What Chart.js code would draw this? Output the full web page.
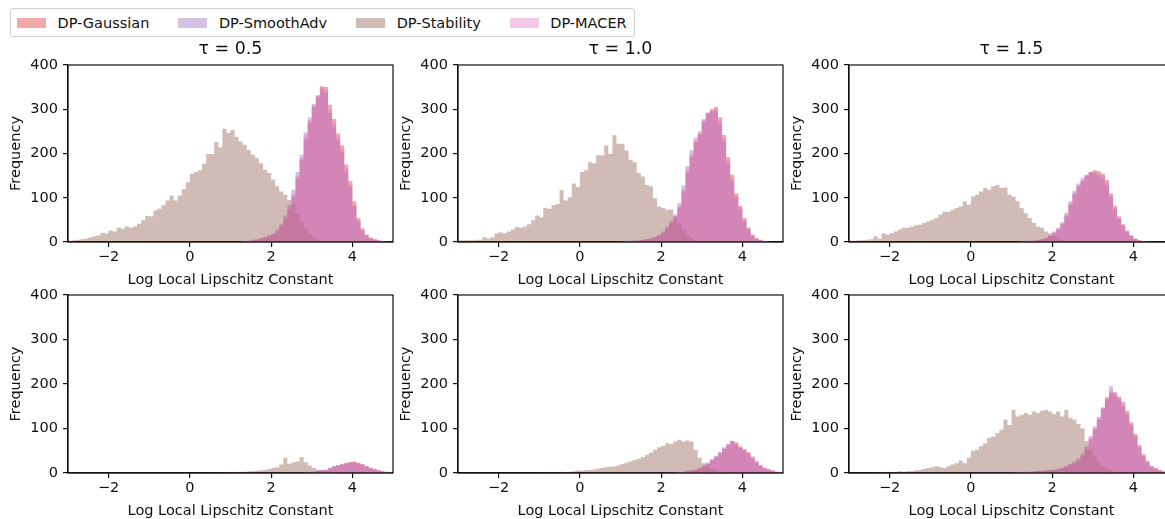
<!DOCTYPE html>
<html>
<head>
<meta charset="utf-8">
<title>Log Local Lipschitz Constant histograms</title>
<script src="https://cdn.jsdelivr.net/npm/chart.js@4.4.1/dist/chart.umd.min.js"></script>
<style>
  html, body { margin: 0; padding: 0; background: #fff; }
  body { width: 1165px; height: 519px; overflow: hidden; position: relative; font-family: "DejaVu Sans", sans-serif; }
  .panel { position: absolute; }
  #legend { position: absolute; left: 10px; top: 8px; height: 27px; border: 1px solid #d0d0d0; border-radius: 3px;
            display: flex; align-items: center; padding: 0 7px 0 6px; font-size: 14.5px; color: #111; background: #fff; }
  .item { display: flex; align-items: center; margin-right: 29px; white-space: nowrap; }
  .item:last-child { margin-right: 0; }
  .swatch { width: 29px; height: 10px; margin-right: 11.5px; }
</style>
</head>
<body>
<div id="legend"></div>
<script>
// series + axis setup
const seriesNames = ['DP-Gaussian', 'DP-SmoothAdv', 'DP-Stability', 'DP-MACER'];
const seriesColors = ['rgba(214,39,40,0.4)', 'rgba(148,103,189,0.4)', 'rgba(140,86,75,0.4)', 'rgba(227,119,194,0.4)'];
const panelTaus = ['τ = 0.5', 'τ = 1.0', 'τ = 1.5'];
const xTicks = [-2, 0, 2, 4];
const binWidth = 0.1;

// histogram counts per panel (row-major: top row then bottom row), each bin binWidth wide
const stabilityStart = [-3.0, -3.0, -3.0, 0.5, -1.0, -2.5];
const stabilityCounts = [
  [3,4,5,6,8,10,13,15,21,19, 26,24,32,30,35,32,35,41,49,59, 58,71,75,83,94,105,94,105,120,135,
   154,158,162,177,199,199,226,214,256,247, 253,238,227,220,208,197,190,178,163,156, 141,126,114,107,95,85,65,45,30,18, 10,5,2],
  [4,4,4,4,5,5,11,8,11,19, 22,20,24,28,34,32,35,40,49,60, 56,77,75,83,86,118,94,101,132,124,
   158,162,180,178,196,196,218,199,241,222, 222,207,186,180,156,148,129,126,99,80, 77,73,73,58,43,28,17,9,5,2],
  [3,3,4,4,5,6,13,8,20,17, 20,24,28,32,32,35,38,39,43,47, 50,54,62,69,68,73,77,80,92,84,
   103,107,114,122,118,126,129,122,123,107, 103,92,77,65,54,43,35,32,24,20, 13,8,4,2],
  [1,1,1,2,1,2,2,3,3,4, 4,5,6,7,9,11,13,19,34,21, 24,26,36,24,17,11,7,6,4,3, 2,1],
  [1,1,2,1,2,3,2,3,4,6, 5,6,7,8,10,11,13,14,15,17, 20,23,26,29,32,36,41,46,52,58,
   61,67,65,71,75,71,73,71,52,34, 22,15,10,7,4,2,1],
  [1,1,2,1,2,2,3,4,3,4, 4,6,7,9,11,13,15,13,11,15, 19,22,28,22,34,50,52,60,67,79,
   82,90,97,120,108,142,127,131,135,131, 138,135,140,142,138,132,138,127,142,123, 120,110,100,72,52,38,25,15,10,6, 3,2]
];

const gaussianStart = [1.3, 1.0, 1.2, 2.8, 2.3, 1.0];
const gaussianCounts = [
  [2,2,4,5,8,10,13,17,24,35,52,74,104,144,185,232,270,305,328,352,350,310,278,245,218,175,138,92,55,31,17,10,7,4,2,1],
  [1,1,2,3,3,4,6,7,10,14,20,30,42,55,78,114,158,194,226,244,272,292,300,305,282,242,192,152,110,82,54,33,17,9,5,2,1],
  [1,1,2,3,4,5,8,13,20,28,40,58,84,108,126,138,150,158,162,160,154,140,110,82,58,40,26,15,8,4,2,1],
  [1,1,2,4,5,6,10,14,17,19,23,25,25,23,20,16,12,9,7,4,3,1],
  [1,1,2,4,5,6,9,14,20,28,36,44,54,63,72,69,60,54,47,37,27,18,12,9,6,3,2],
  [1,1,1,2,2,3,4,4,5,6,7,8,10,14,18,22,28,38,53,76,98,120,144,170,180,182,172,160,140,114,88,63,42,27,16,11,7,4,2]
];

const smoothAdvStart = [1.3, 1.0, 1.2, 2.8, 2.3, 1.0];
const smoothAdvCounts = [
  [2,3,5,6,9,12,15,20,28,41,60,84,118,158,198,248,282,312,332,346,338,292,262,230,202,160,124,80,46,26,14,8,5,3,2,1],
  [1,2,3,3,4,5,7,9,12,16,24,35,48,62,88,128,172,208,236,250,278,290,295,296,268,226,178,138,100,74,47,28,14,7,4,2,1],
  [1,2,3,3,5,7,10,15,24,33,45,66,92,116,132,145,152,158,156,150,144,128,100,74,52,36,22,13,6,3,2,1],
  [1,2,3,5,6,8,12,16,18,21,21,23,24,21,18,14,10,8,5,3,2,1],
  [1,2,3,5,6,8,11,17,24,32,39,47,58,66,71,64,56,50,43,33,23,15,10,7,4,3,1],
  [1,2,2,3,3,4,5,5,6,7,8,10,12,16,21,26,33,44,60,83,105,126,148,165,195,174,165,150,130,106,81,57,37,23,14,9,5,3,1]
];

const macerStart = [1.3, 1.0, 1.2, 2.8, 2.3, 1.0];
const macerCounts = [
  [2,3,4,6,8,11,14,18,26,38,55,78,110,150,190,240,275,310,330,350,345,300,270,238,210,168,130,85,50,28,15,9,6,4,2,1],
  [1,2,2,3,4,5,6,8,11,15,22,32,45,58,82,120,165,200,230,246,275,292,298,302,275,235,185,145,105,78,50,30,15,8,4,2,1],
  [1,2,2,3,4,6,9,14,22,30,42,62,88,112,128,140,148,155,160,156,150,135,105,78,55,38,24,14,7,4,2,1],
  [1,2,3,4,5,7,11,15,16,20,22,24,26,22,19,15,11,9,6,4,2,1],
  [1,2,3,4,5,7,10,15,22,30,37,45,56,64,73,67,58,52,45,35,25,17,11,8,5,3,2],
  [1,1,2,2,3,3,4,5,5,6,7,9,11,15,19,24,30,41,56,79,101,123,146,168,185,178,170,155,135,110,85,60,40,25,15,10,6,4,2]
];

// turn bin counts into step points: one point per left bin edge, plus the closing right edge
function binPoints(start, counts) {
  const pts = counts.map((c, i) => ({ x: +(start + i * binWidth).toFixed(2), y: c }));
  pts.push({ x: +(start + counts.length * binWidth).toFixed(2), y: 0 });
  return pts;
}

// matplotlib draws the axes frame on all four sides
const framePlugin = {
  id: 'frame',
  afterDraw(chart) {
    const { ctx, chartArea: a } = chart;
    ctx.save();
    ctx.strokeStyle = '#111';
    ctx.lineWidth = 1.2;
    ctx.strokeRect(a.left, a.top, a.right - a.left, a.bottom - a.top);
    ctx.restore();
  }
};

const FONT = 'DejaVu Sans';
const TEXT = '#111';
const colLeft = [68, 458, 849];
const rowTop = [65, 295];
const rowHeight = [177, 178];
const plotWidth = 325;
const padL = 68, padT = 35, padB = 50, padR = 8;

const charts = [];
for (let p = 0; p < 6; p++) {
  const row = Math.floor(p / 3), col = p % 3;
  const w = padL + plotWidth + padR;
  const h = padT + rowHeight[row] + padB;
  const canvas = document.createElement('canvas');
  canvas.className = 'panel';
  canvas.width = w; canvas.height = h;
  canvas.style.left = (colLeft[col] - padL) + 'px';
  canvas.style.top = (rowTop[row] - padT) + 'px';
  canvas.style.width = w + 'px';
  canvas.style.height = h + 'px';
  document.body.appendChild(canvas);

  const starts = [gaussianStart[p], smoothAdvStart[p], stabilityStart[p], macerStart[p]];
  const counts = [gaussianCounts[p], smoothAdvCounts[p], stabilityCounts[p], macerCounts[p]];

  const datasets = seriesNames.map((name, i) => ({
    label: name,
    data: binPoints(starts[i], counts[i]),
    stepped: true,
    fill: 'origin',
    backgroundColor: seriesColors[i],
    borderColor: 'rgba(0,0,0,0)',
    borderWidth: 0,
    pointRadius: 0,
    order: 4 - i // first series at the bottom, MACER on top
  }));

  const axisGrid = { display: true, drawOnChartArea: false, drawTicks: true, tickLength: 5, color: TEXT, lineWidth: 1.2 };
  const axisBorder = { display: true, color: TEXT, width: 1.2 };

  charts.push(new Chart(canvas, {
    type: 'line',
    data: { datasets },
    options: {
      responsive: false,
      animation: false,
      devicePixelRatio: 1,
      layout: { padding: { top: row === 0 ? 0 : padT, right: padR, left: 0, bottom: 0 } },
      plugins: {
        legend: { display: false },
        tooltip: { enabled: false },
        title: {
          display: row === 0,
          fullSize: false, // centre over the plot area, like an axes title
          text: panelTaus[col],
          color: TEXT,
          font: { family: FONT, size: 17.4, weight: 'normal' },
          padding: { top: 9.5, bottom: 4.6 }
        }
      },
      scales: {
        x: {
          type: 'linear',
          min: -3,
          max: 5,
          afterBuildTicks: s => { s.ticks = xTicks.map(v => ({ value: v })); },
          afterFit: s => { s.height = padB; },
          ticks: {
            color: TEXT, padding: 2, maxRotation: 0,
            font: { family: FONT, size: 14.5 },
            callback: v => String(v).replace('-', '\u2212')
          },
          grid: axisGrid,
          border: axisBorder,
          title: {
            display: true, text: 'Log Local Lipschitz Constant', color: TEXT,
            font: { family: FONT, size: 14.5 }, padding: { top: 0, bottom: 3 }
          }
        },
        y: {
          min: 0,
          max: 400,
          afterFit: s => { s.width = padL; },
          ticks: { stepSize: 100, color: TEXT, padding: 5, font: { family: FONT, size: 14.5 } },
          grid: axisGrid,
          border: axisBorder,
          title: {
            display: true, text: 'Frequency', color: TEXT,
            font: { family: FONT, size: 14.5 }, padding: { top: 7.3, bottom: 0 }
          }
        }
      }
    },
    plugins: [framePlugin]
  }));
}

// shared legend across the top, built from the first chart's datasets
const legendEl = document.getElementById('legend');
charts[0].data.datasets.forEach(ds => {
  const item = document.createElement('div');
  item.className = 'item';
  const sw = document.createElement('span');
  sw.className = 'swatch';
  sw.style.background = ds.backgroundColor;
  const txt = document.createElement('span');
  txt.textContent = ds.label;
  item.appendChild(sw);
  item.appendChild(txt);
  legendEl.appendChild(item);
});
</script>
</body>
</html>
